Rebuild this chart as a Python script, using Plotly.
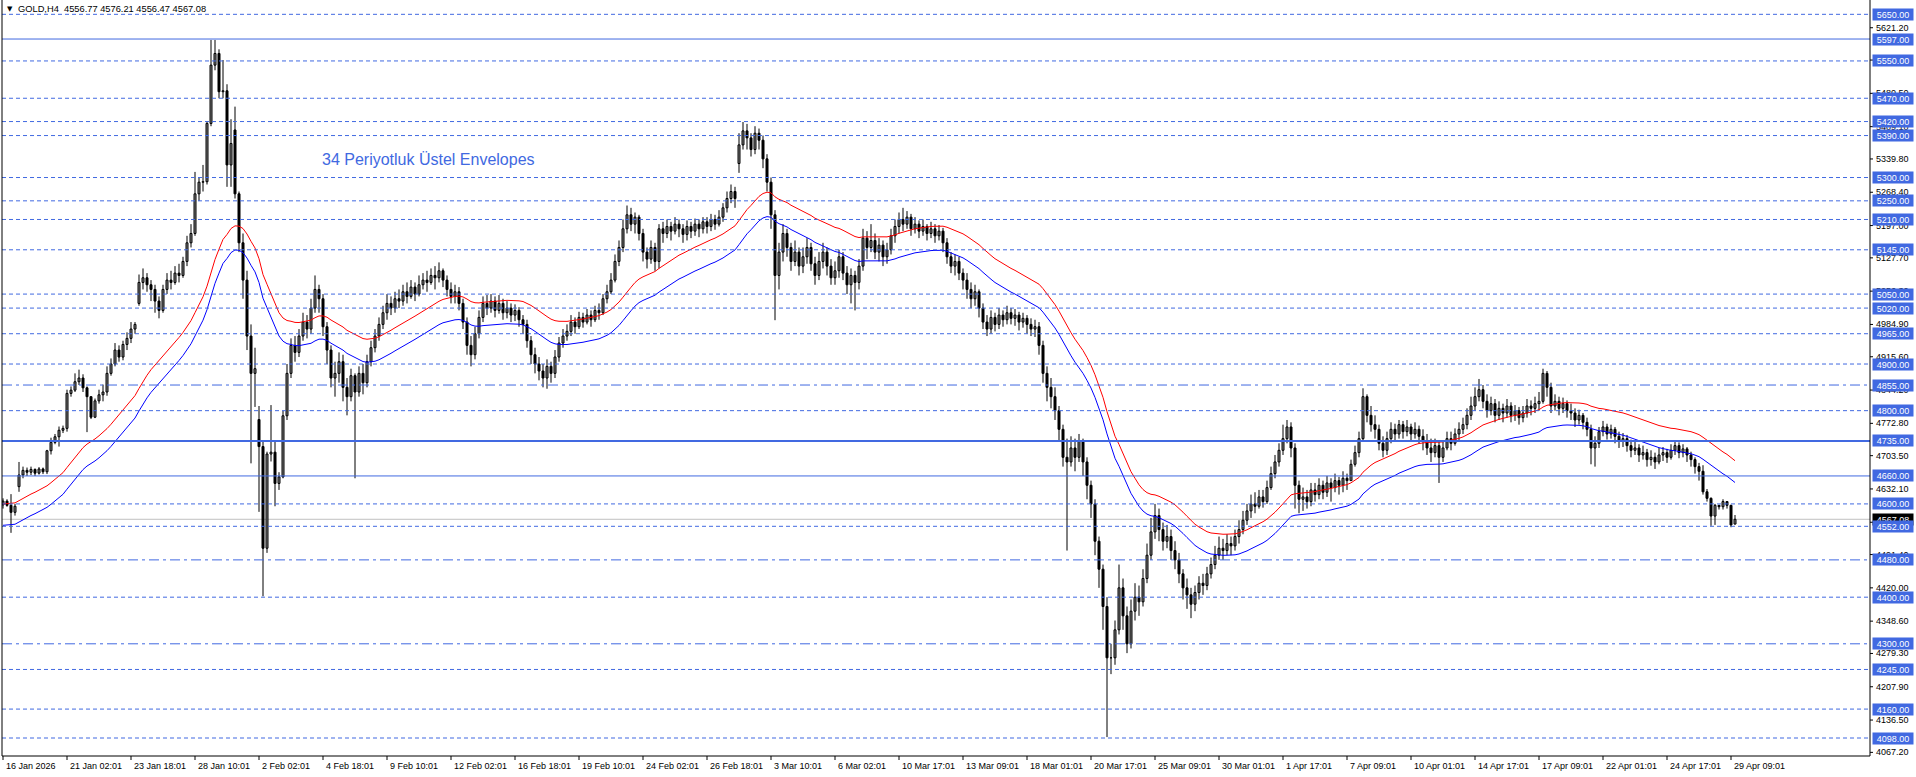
import plotly.graph_objects as go

# ---------------- data ----------------
x_tick_labels = ["16 Jan 2026", "21 Jan 02:01", "23 Jan 18:01", "28 Jan 10:01", "2 Feb 02:01",
                 "4 Feb 18:01", "9 Feb 10:01", "12 Feb 02:01", "16 Feb 18:01", "19 Feb 10:01",
                 "24 Feb 02:01", "26 Feb 18:01", "3 Mar 10:01", "6 Mar 02:01", "10 Mar 17:01",
                 "13 Mar 09:01", "18 Mar 01:01", "20 Mar 17:01", "25 Mar 09:01", "30 Mar 01:01",
                 "1 Apr 17:01", "7 Apr 09:01", "10 Apr 01:01", "14 Apr 17:01", "17 Apr 09:01",
                 "22 Apr 01:01", "24 Apr 17:01", "29 Apr 09:01"]
bars_per_label = 16

closes = [
    4606, 4597, 4582, 4595, 4662, 4672, 4668, 4674, 4666, 4675,
    4669, 4714, 4732, 4744, 4758, 4762, 4837, 4844, 4862, 4870,
    4849, 4830, 4786, 4821, 4834, 4840, 4880, 4900, 4930, 4915,
    4942, 4955, 4975, 4985, 5075, 5085, 5070, 5060, 5035, 5015,
    5060, 5080, 5075, 5095, 5090, 5120, 5160, 5180, 5265, 5290,
    5291, 5416, 5541, 5566, 5484, 5486, 5327, 5373, 5265, 5160,
    5080, 4960, 4880, 4890, 4723, 4505, 4707, 4711, 4644, 4658,
    4789, 4880, 4940, 4925, 4960, 4990, 4975, 5020, 5060, 5040,
    4980, 4930, 4870, 4880, 4905, 4850, 4830, 4875, 4840, 4880,
    4860, 4905, 4935, 4960, 4985, 5010, 5030, 5020, 5040, 5035,
    5055, 5045, 5065, 5050, 5070, 5080, 5075, 5090, 5085, 5100,
    5080, 5060, 5045, 5055, 5030, 4990, 4940, 4920, 4965, 5000,
    5030, 5020, 5035, 5015, 5030, 5010, 5020, 5005, 5015, 4995,
    4985, 4950, 4920, 4900, 4885, 4870, 4895, 4880, 4915, 4945,
    4960, 4970, 4990, 4980, 5000, 4990, 5005, 4995, 5015, 5010,
    5040, 5055, 5080, 5120, 5150, 5190, 5220, 5200, 5215, 5180,
    5140, 5125, 5150, 5120, 5190, 5180, 5195, 5185, 5200, 5190,
    5178, 5195, 5185, 5200, 5190, 5205, 5195, 5210, 5200, 5215,
    5235, 5255, 5270, 5255, 5370, 5400, 5385, 5360, 5395, 5380,
    5340, 5290, 5220, 5090, 5140, 5180, 5150, 5120, 5140, 5110,
    5130, 5150, 5115, 5090, 5120, 5140, 5110, 5085, 5100, 5130,
    5095, 5070, 5090, 5075, 5110, 5170, 5150, 5165, 5140, 5155,
    5130, 5145, 5175, 5195, 5210, 5200, 5215, 5190, 5200, 5185,
    5195, 5180, 5190, 5175, 5185, 5160, 5130, 5110, 5120, 5095,
    5080, 5060, 5040, 5055, 5020, 4990, 4975, 5000, 4985, 5005,
    4995, 5010, 4998, 5005, 4990, 4998, 4985, 4975, 4980, 4940,
    4880, 4850, 4830, 4800, 4760, 4700, 4690, 4720, 4700, 4735,
    4690, 4640, 4600, 4520, 4460, 4380, 4270, 4270, 4330, 4420,
    4360, 4300, 4370, 4400, 4390, 4440, 4490, 4540, 4575, 4545,
    4520, 4530, 4500, 4480, 4450, 4420, 4405, 4385, 4410, 4430,
    4425, 4450, 4470, 4490, 4505, 4500, 4515, 4510, 4530, 4545,
    4565, 4585, 4600, 4595, 4615, 4605, 4635, 4665, 4690, 4715,
    4740, 4765, 4720, 4640, 4610, 4615, 4605, 4630, 4620, 4640,
    4625, 4645, 4635, 4650, 4640, 4655, 4650, 4685, 4710, 4740,
    4830, 4790, 4770, 4760, 4730, 4715, 4740, 4760, 4750, 4770,
    4755, 4765, 4750, 4760, 4745, 4735, 4720, 4710, 4725, 4700,
    4720, 4740, 4730, 4750, 4760, 4770, 4790, 4810, 4830, 4845,
    4820, 4800, 4815, 4790, 4805, 4795, 4810, 4790, 4800, 4785,
    4795, 4810, 4805, 4815, 4820, 4880, 4850, 4810, 4820, 4805,
    4815, 4800, 4795, 4780, 4790, 4775, 4760, 4720, 4730, 4755,
    4765, 4750, 4760, 4745, 4735, 4740, 4725, 4715, 4720, 4705,
    4710, 4695, 4700, 4690, 4705, 4710, 4700, 4715, 4725, 4710,
    4718, 4705, 4695, 4680, 4670, 4626, 4612, 4574, 4597, 4594,
    4605, 4597, 4555, 4567.08,
]

highs = [
    4612, 4610, 4621, 4600, 4690, 4680, 4678, 4680, 4676, 4679,
    4678, 4716, 4742, 4750, 4766, 4768, 4845, 4852, 4880, 4888,
    4878, 4852, 4830, 4826, 4845, 4856, 4895, 4912, 4945, 4940,
    4950, 4968, 4990, 4990, 5092, 5105, 5095, 5080, 5070, 5045,
    5070, 5095, 5100, 5110, 5115, 5130, 5175, 5200, 5312, 5300,
    5327, 5420, 5595, 5595, 5575, 5552, 5500, 5425, 5452, 5270,
    5180, 5100, 4985, 4935, 4810, 4735, 4712, 4812, 4737, 4668,
    4800, 4900, 4955, 4960, 4975, 5010, 5005, 5040, 5090, 5070,
    5050, 4990, 4940, 4905, 4925, 4920, 4870, 4890, 4880, 4895,
    4900, 4920, 4950, 4975, 5000, 5025, 5050, 5045, 5055, 5060,
    5070, 5075, 5080, 5075, 5090, 5095, 5100, 5105, 5110, 5118,
    5105, 5090, 5075, 5070, 5065, 5040, 5000, 4960, 4980, 5015,
    5045, 5048, 5050, 5045, 5048, 5040, 5035, 5030, 5028, 5022,
    5005, 4995, 4960, 4935, 4915, 4900, 4910, 4905, 4930, 4958,
    4975, 4985, 5005, 5000, 5012, 5010, 5018, 5015, 5025, 5030,
    5050, 5070, 5095, 5135, 5165, 5210, 5240, 5235, 5225, 5220,
    5190, 5150, 5165, 5160, 5200, 5205, 5210, 5205, 5215, 5210,
    5200, 5208, 5205, 5212, 5210, 5215, 5215, 5222, 5220, 5230,
    5245, 5270, 5285, 5280, 5395, 5419, 5415, 5395, 5410, 5405,
    5390, 5350, 5300, 5230, 5160, 5200, 5190, 5160, 5165, 5150,
    5150, 5170, 5160, 5130, 5140, 5160, 5150, 5125, 5120, 5145,
    5140, 5110, 5105, 5100, 5125, 5190, 5185, 5200, 5180, 5170,
    5165, 5160, 5190, 5210, 5225, 5235, 5228, 5222, 5215, 5208,
    5210, 5200, 5205, 5200, 5198, 5192, 5170, 5140, 5135, 5130,
    5105, 5095, 5075, 5070, 5060, 5030, 5005, 5015, 5010, 5020,
    5015, 5025, 5020, 5018, 5012, 5010, 5005, 4998, 4995, 4990,
    4950, 4895, 4870, 4850, 4810, 4770, 4740, 4745, 4740, 4750,
    4740, 4700, 4650, 4610, 4530, 4470, 4400, 4300, 4350, 4470,
    4440, 4380, 4395, 4430, 4425, 4460, 4515, 4570, 4600, 4590,
    4560, 4555, 4545, 4520, 4495, 4460, 4440, 4420, 4425, 4445,
    4450, 4465, 4485, 4510, 4530, 4525, 4535, 4530, 4545, 4565,
    4585, 4600, 4620, 4625, 4630, 4630, 4650, 4680, 4705, 4730,
    4770, 4780, 4775, 4730, 4650, 4635, 4630, 4645, 4645, 4655,
    4650, 4660, 4655, 4665, 4658, 4670, 4665, 4695, 4725, 4755,
    4848, 4835, 4810, 4790, 4770, 4745, 4755, 4775, 4772, 4780,
    4778, 4780, 4772, 4775, 4768, 4760, 4750, 4740, 4740, 4735,
    4735, 4755, 4755, 4762, 4775, 4785, 4805, 4830, 4850, 4868,
    4855, 4835, 4830, 4825, 4820, 4815, 4825, 4818, 4812, 4808,
    4810, 4825, 4822, 4830, 4840, 4890, 4885, 4860, 4835, 4830,
    4828, 4822, 4815, 4805, 4802, 4795, 4785, 4770, 4745, 4765,
    4778, 4772, 4770, 4765, 4755, 4752, 4748, 4738, 4735, 4728,
    4725, 4718, 4715, 4710, 4720, 4722, 4718, 4728, 4735, 4732,
    4728, 4722, 4712, 4700, 4688, 4683, 4632, 4614, 4600, 4598,
    4610, 4602, 4598, 4576.21,
]

lows = [
    4590, 4594, 4538, 4575, 4626, 4655, 4660, 4662, 4660, 4663,
    4664, 4664, 4706, 4728, 4723, 4752, 4755, 4830, 4840, 4855,
    4840, 4754, 4782, 4784, 4815, 4820, 4832, 4875, 4895, 4905,
    4908, 4930, 4945, 4965, 5025, 5060, 5055, 5035, 5010, 4998,
    5010, 5050, 5060, 5070, 5075, 5085, 5110, 5150, 5175, 5250,
    5270, 5285, 5410, 5530, 5470, 5470, 5280, 5280, 5255, 5140,
    5040, 4930, 4687, 4808, 4583, 4402, 4495, 4691, 4595, 4630,
    4655, 4780, 4870, 4905, 4915, 4950, 4955, 4965, 5010, 5010,
    4960, 4900, 4850, 4830, 4860, 4820, 4790, 4820, 4655, 4830,
    4835, 4850, 4895, 4925, 4950, 4975, 4995, 5005, 5010, 5020,
    5025, 5030, 5040, 5035, 5045, 5060, 5055, 5070, 5060, 5075,
    5065, 5045, 5030, 5030, 5015, 4975, 4920, 4895, 4910, 4955,
    4990, 5005, 5010, 5000, 5008, 4995, 4998, 4990, 4992, 4980,
    4965, 4935, 4900, 4880, 4865, 4850, 4847, 4860, 4870, 4905,
    4935, 4950, 4960, 4965, 4975, 4978, 4985, 4980, 4990, 4995,
    5005, 5030, 5050, 5075, 5110, 5140, 5180, 5185, 5180, 5165,
    5120, 5105, 5115, 5100, 5105, 5160, 5170, 5165, 5178, 5172,
    5160, 5165, 5170, 5175, 5172, 5180, 5180, 5185, 5188, 5195,
    5205, 5225, 5245, 5235, 5310, 5360, 5360, 5345, 5350, 5360,
    5320, 5270, 5190, 4994, 5060, 5120, 5130, 5100, 5110, 5090,
    5095, 5115, 5100, 5070, 5080, 5105, 5090, 5070, 5070, 5085,
    5080, 5050, 5030, 5015, 5060, 5100, 5125, 5140, 5125, 5120,
    5110, 5115, 5135, 5160, 5180, 5185, 5190, 5175, 5180, 5170,
    5175, 5165, 5170, 5160, 5165, 5140, 5115, 5095, 5090, 5080,
    5060, 5040, 5020, 5025, 5000, 4975, 4960, 4965, 4970, 4975,
    4980, 4985, 4985, 4982, 4972, 4978, 4965, 4960, 4958, 4920,
    4860, 4820, 4805, 4780, 4735, 4680, 4500, 4680, 4670, 4690,
    4660, 4610, 4570, 4490, 4420, 4330, 4100, 4235, 4255, 4320,
    4330, 4280, 4290, 4350, 4360, 4380, 4430, 4480, 4525, 4520,
    4500, 4505, 4480, 4460, 4430, 4395, 4375, 4355, 4370, 4395,
    4405, 4415, 4440, 4460, 4480, 4480, 4490, 4490, 4500, 4515,
    4535, 4555, 4570, 4580, 4590, 4592, 4600, 4630, 4655, 4680,
    4705, 4730, 4700, 4590, 4580, 4585, 4590, 4595, 4605, 4610,
    4610, 4615, 4605, 4625, 4620, 4625, 4630, 4650, 4680, 4700,
    4735, 4775, 4755, 4740, 4715, 4700, 4705, 4730, 4735, 4740,
    4740, 4745, 4735, 4740, 4730, 4715, 4705, 4690, 4700, 4645,
    4690, 4715, 4715, 4725, 4735, 4750, 4760, 4780, 4800, 4820,
    4805, 4785, 4790, 4775, 4780, 4775, 4785, 4775, 4778, 4770,
    4775, 4785, 4790, 4795, 4800, 4815, 4830, 4795, 4800, 4790,
    4795, 4785, 4780, 4765, 4770, 4760, 4745, 4685, 4680, 4720,
    4745, 4738, 4740, 4730, 4720, 4722, 4712, 4700, 4705, 4690,
    4695, 4680, 4682, 4675, 4685, 4692, 4688, 4695, 4705, 4698,
    4700, 4690, 4680, 4665, 4650, 4620, 4605, 4553, 4555, 4588,
    4588, 4590, 4550, 4556.47,
]

# opens: previous close, except where the bar gapped
gap_opens = {0: 4598, 4: 4637, 34: 5030, 58: 5402, 64: 4781, 184: 5330, 433: 4556.77}

# horizontal line objects
level_prices = [5650, 5597, 5550, 5470, 5420, 5390, 5300, 5250, 5210, 5145, 5050, 5020,
                4965, 4900, 4855, 4800, 4735, 4660, 4600, 4552, 4480, 4400, 4300, 4245,
                4160, 4098]
level_styles = ["dot", "solid", "dot", "dot", "dot", "dot", "dot", "dot", "dot", "dot", "dot", "dot",
                "dot", "dot", "dashdot", "dot", "thick", "solid", "dot", "dot", "dashdot", "dot",
                "dashdot", "dot", "dot", "dot"]

price_axis_ticks = [5621.20, 5551.90, 5480.50, 5409.10, 5339.80, 5268.40, 5197.00, 5127.70,
                    5056.30, 4984.90, 4915.60, 4844.20, 4772.80, 4703.50, 4632.10, 4560.70,
                    4491.40, 4420.00, 4348.60, 4279.30, 4207.90, 4136.50, 4067.20]

bid_price = 4567.08
header_text = "GOLD,H4  4556.77 4576.21 4556.47 4567.08"
indicator_text = "34 Periyotluk Üstel Envelopes"
ema_period = 34
envelope_dev_pct = 0.5
ema_start = 4577.0
y_min, y_max = 4059.4, 5680.7

# ---------------- derived series ----------------
n = len(closes)
opens = []
for i in range(n):
    if i in gap_opens:
        opens.append(gap_opens[i])
    else:
        opens.append(closes[i - 1])
highs = [max(h, o, c) for h, o, c in zip(highs, opens, closes)]
lows = [min(l, o, c) for l, o, c in zip(lows, opens, closes)]
xs = list(range(n))

alpha = 2.0 / (ema_period + 1)
ema = []
e = ema_start
for i, c in enumerate(closes):
    if i > 0:
        e = e + alpha * (c - e)
    ema.append(e)
upper = [v * (1 + envelope_dev_pct / 100) for v in ema]
lower = [v * (1 - envelope_dev_pct / 100) for v in ema]

# ---------------- figure ----------------
W, H = 1916, 777
ML, MR, MT, MB = 2, 46, 0, 21
PW, PH = W - ML - MR, H - MT - MB
BAR_PX = 4.0
x0 = -0.25
x1 = x0 + PW / BAR_PX

BLUE = "#4169E1"
FONT = "Liberation Sans, Arial, sans-serif"

fig = go.Figure()

# wicks
wx, wy = [], []
for i in range(n):
    wx += [xs[i], xs[i], None]
    wy += [lows[i], highs[i], None]
fig.add_trace(go.Scatter(x=wx, y=wy, mode="lines", line=dict(color="#000000", width=1),
                         hoverinfo="skip", showlegend=False, connectgaps=False))
# bodies
body_base = [min(o, c) for o, c in zip(opens, closes)]
body_size = [abs(c - o) for o, c in zip(opens, closes)]
body_fill = ["#FFFFFF" if c >= o else "#000000" for o, c in zip(opens, closes)]
fig.add_trace(go.Bar(x=xs, y=body_size, base=body_base, width=0.5,
                     marker=dict(color=body_fill, line=dict(color="#000000", width=1)),
                     hoverinfo="skip", showlegend=False))
fig.add_trace(go.Scatter(x=xs, y=upper, mode="lines", line=dict(color="#FF0000", width=1),
                         hoverinfo="skip", showlegend=False))
fig.add_trace(go.Scatter(x=xs, y=lower, mode="lines", line=dict(color="#0000FF", width=1),
                         hoverinfo="skip", showlegend=False))

shapes = []
shapes.append(dict(type="line", xref="paper", x0=0, x1=1, yref="y", y0=bid_price, y1=bid_price,
                   line=dict(color="#C0C0C0", width=1), layer="below"))
dash_map = {"dot": "4px,3px", "dashdot": "10px,4px,3px,4px", "solid": "solid", "thick": "solid"}
for p, s in zip(level_prices, level_styles):
    shapes.append(dict(type="line", xref="paper", x0=0, x1=1, yref="y", y0=p, y1=p,
                       line=dict(color=BLUE, width=2 if s == "thick" else 1, dash=dash_map[s]),
                       layer="above"))
shapes.append(dict(type="line", xref="paper", yref="paper", x0=0, x1=0, y0=0, y1=1,
                   line=dict(color="black", width=1)))
shapes.append(dict(type="line", xref="paper", yref="paper", x0=1, x1=1, y0=0, y1=1,
                   line=dict(color="black", width=1)))
shapes.append(dict(type="line", xref="paper", yref="paper", x0=0, x1=1, y0=0, y1=0,
                   line=dict(color="black", width=1)))
for p in price_axis_ticks:
    shapes.append(dict(type="line", xref="paper", x0=1, x1=1 + 3.0 / PW, yref="y", y0=p, y1=p,
                       line=dict(color="black", width=1)))
for k in range(len(x_tick_labels)):
    xv = k * bars_per_label
    shapes.append(dict(type="line", xref="x", x0=xv, x1=xv, yref="paper", y0=0, y1=-4.0 / PH,
                       line=dict(color="black", width=1)))

annotations = []
for p in price_axis_ticks:
    annotations.append(dict(xref="paper", x=1, xanchor="left", xshift=4, yref="y", y=p,
                            yanchor="middle", text=f"{p:.2f}", showarrow=False,
                            font=dict(family=FONT, size=9, color="black")))
annotations.append(dict(xref="paper", x=1, xanchor="left", xshift=2, yref="y", y=bid_price,
                        yanchor="middle", text=f"{bid_price:.2f}", showarrow=False,
                        bgcolor="#000000", width=38, height=9, borderpad=1, align="center",
                        font=dict(family=FONT, size=9, color="white")))
for p in level_prices:
    annotations.append(dict(xref="paper", x=1, xanchor="left", xshift=2, yref="y", y=p,
                            yanchor="middle", text=f"{p:.2f}", showarrow=False,
                            bgcolor=BLUE, width=38, height=9, borderpad=1, align="center",
                            font=dict(family=FONT, size=9, color="white")))
for k, lab in enumerate(x_tick_labels):
    annotations.append(dict(xref="x", x=k * bars_per_label, xanchor="left", xshift=1,
                            yref="paper", y=0, yanchor="top", yshift=-3, text=lab,
                            showarrow=False, font=dict(family=FONT, size=9, color="black")))
annotations.append(dict(xref="paper", x=0, xanchor="left", xshift=3, yref="paper", y=1,
                        yanchor="middle", yshift=-9, text="▼", showarrow=False,
                        font=dict(family="DejaVu Sans", size=7, color="black")))
annotations.append(dict(xref="paper", x=0, xanchor="left", xshift=14, yref="paper", y=1,
                        yanchor="middle", yshift=-9, text=header_text, showarrow=False,
                        font=dict(family=FONT, size=9.3, color="black")))
annotations.append(dict(xref="x", x=79.25, xanchor="left", yref="y", y=5339.7,
                        yanchor="middle", text=indicator_text, showarrow=False,
                        font=dict(family=FONT, size=16, color=BLUE)))

fig.update_layout(
    width=W, height=H, margin=dict(l=ML, r=MR, t=MT, b=MB, pad=0),
    paper_bgcolor="white", plot_bgcolor="white", barmode="overlay",
    xaxis=dict(range=[x0, x1], showgrid=False, zeroline=False, showticklabels=False,
               showline=False, ticks="", fixedrange=True),
    yaxis=dict(range=[y_min, y_max], showgrid=False, zeroline=False, showticklabels=False,
               showline=False, ticks="", fixedrange=True),
    shapes=shapes, annotations=annotations, showlegend=False,
)

fig.write_html("out.html", config={"displayModeBar": False},
               post_script="document.body.style.margin='0';document.body.style.overflow='hidden';")
